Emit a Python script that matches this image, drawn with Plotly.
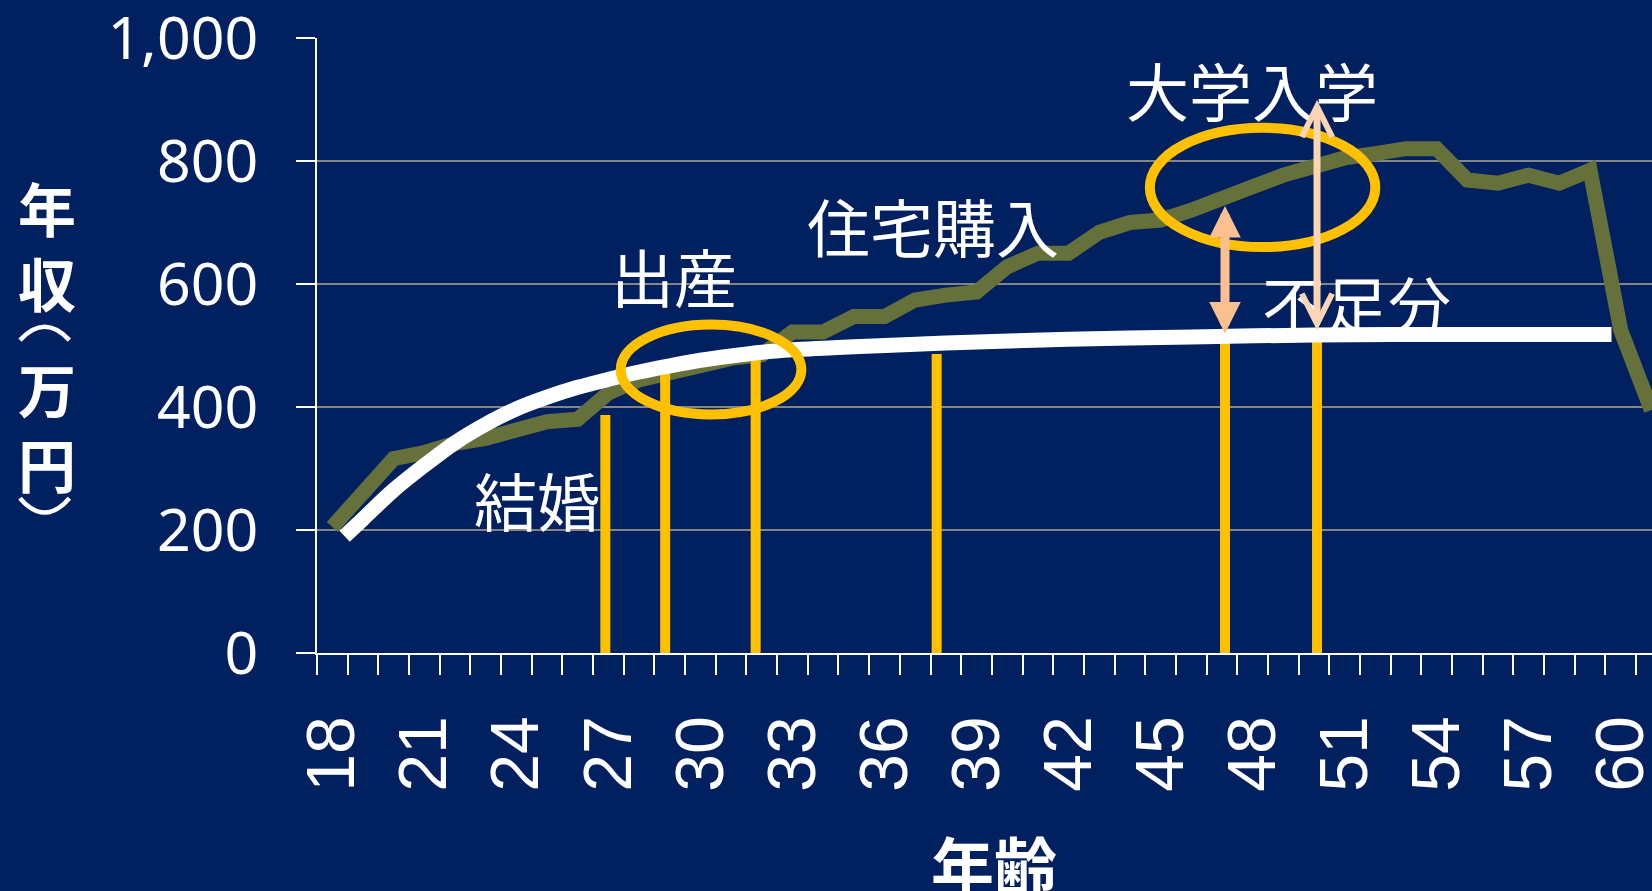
import plotly.graph_objects as go

# ---- data ----
ages = list(range(18, 62))
income = [205, 262, 316, 326, 341, 349, 362, 376, 380, 423, 444, 457, 470, 479, 485,
          522, 522, 547, 547, 574, 582, 587, 628, 650, 650, 684, 700, 704, 720, 742,
          758, 777, 791, 805, 812, 820, 820, 769, 764, 777, 764, 785, 525, 395]

spend_ages = [18.4, 19, 20, 21, 22, 23, 24, 25, 26, 27, 28, 29, 30, 31, 32, 33, 35, 38, 42, 46, 50, 55, 59.7]
spend_vals = [190, 218, 265, 305, 342, 372, 397, 416, 432, 445, 457, 467, 476, 483, 489, 493, 498, 504, 510, 514, 517, 518, 518]

event_ages = [26.9, 28.85, 31.8, 37.7, 47.1, 50.1]
event_tops = [387, 461, 486, 486, 510, 510]

x_tick_vals = list(range(18, 61, 3))
x_tick_text = [str(v) for v in x_tick_vals]
y_tick_vals = [0, 200, 400, 600, 800, 1000]
y_tick_text = ["0", "200", "400", "600", "800", "1,000"]

# annotation layout (data coordinates)
labels = [("結婚", 24.66, 252), ("出産", 29.13, 616), ("住宅購入", 37.58, 697),
          ("大学入学", 47.98, 918), ("不足分", 51.40, 571)]
ellipses = [(27.40, 33.29, 387.8, 534.2), (44.65, 52.0, 660, 854)]
arrow1 = (47.1, 517, 727)
arrow2 = (50.1, 522, 899)

NAVY = "#002060"
YELLOW = "#FFC000"
JP = "Noto Sans CJK JP"

fig = go.Figure()

fig.add_trace(go.Scatter(x=ages, y=income, mode="lines",
                         line=dict(color="#66703b", width=15), hoverinfo="skip"))

bx, by = [], []
for a, t in zip(event_ages, event_tops):
    bx += [a, a, None]
    by += [0, t, None]
fig.add_trace(go.Scatter(x=bx, y=by, mode="lines",
                         line=dict(color=YELLOW, width=10), hoverinfo="skip"))

fig.add_trace(go.Scatter(x=spend_ages, y=spend_vals, mode="lines",
                         line=dict(color="white", width=15, shape="spline", smoothing=0.8),
                         hoverinfo="skip"))

for x0, x1, y0, y1 in ellipses:
    fig.add_shape(type="circle", xref="x", yref="y", x0=x0, x1=x1, y0=y0, y1=y1,
                  line=dict(color=YELLOW, width=10))

# vertical-writing parentheses of the y title (paper coordinates)
fig.add_shape(type="path", xref="paper", yref="paper",
              path="M -0.2225,0.5087 Q -0.2040,0.5520 -0.1855,0.5087",
              line=dict(color="white", width=4.5))
fig.add_shape(type="path", xref="paper", yref="paper",
              path="M -0.2225,0.2517 Q -0.2040,0.2050 -0.1855,0.2517",
              line=dict(color="white", width=4.5))

annots = []
for txt, x, y in labels:
    annots.append(dict(text=txt, x=x, y=y, xref="x", yref="y", showarrow=False,
                       font=dict(family=JP, size=63, color="white"),
                       xanchor="center", yanchor="middle"))

# arrows
annots.append(dict(text="", x=arrow1[0], y=arrow1[2], ax=arrow1[0], ay=arrow1[1],
                   xref="x", yref="y", axref="x", ayref="y", showarrow=True,
                   arrowside="end+start", arrowhead=2, startarrowhead=2,
                   arrowsize=0.7, startarrowsize=0.7, arrowwidth=9,
                   arrowcolor="#FAC090", standoff=0, startstandoff=0))
annots.append(dict(text="", x=arrow2[0], y=arrow2[2], ax=arrow2[0], ay=arrow2[1],
                   xref="x", yref="y", axref="x", ayref="y", showarrow=True,
                   arrowside="end+start", arrowhead=5, startarrowhead=5,
                   arrowsize=0.85, startarrowsize=0.85, arrowwidth=7,
                   arrowcolor="#FCD5B5", standoff=0, startstandoff=0))

# y-axis title (stacked characters)
ytitle = [("<b>年<br>収</b>", 665), ("<b>万<br>円</b>", 370)]
for ch, y in ytitle:
    annots.append(dict(text=ch, x=-0.2025, y=y, xref="paper", yref="y", showarrow=False,
                       font=dict(family=JP, size=58, color="white"),
                       xanchor="center", yanchor="middle"))
# x-axis title
annots.append(dict(text="<b>年齢</b>", x=0.507, y=-0.34, xref="paper", yref="paper",
                   showarrow=False, font=dict(family=JP, size=63, color="white"),
                   xanchor="center", yanchor="middle"))

fig.update_layout(
    width=1652, height=891,
    margin=dict(l=317.3, r=0, t=38, b=238.3, pad=0),
    paper_bgcolor=NAVY, plot_bgcolor=NAVY,
    showlegend=False,
    annotations=annots,
    xaxis=dict(range=[17.5, 61.02], tickmode="array", tickvals=x_tick_vals, ticktext=x_tick_text,
               tickangle=-90, ticks="outside", ticklen=20, tickcolor="rgba(0,0,0,0)",
               minor=dict(ticks="outside", ticklen=20, tickwidth=2, tickcolor="white",
                          tick0=17.5, dtick=1, showgrid=False),
               showline=True, linecolor="white", linewidth=2, showgrid=False, zeroline=False,
               tickfont=dict(family="Liberation Sans", size=68, color="white"),
               ticklabelstandoff=14, ticklabeloverflow="allow", automargin=False),
    yaxis=dict(range=[0, 1000], tickmode="array", tickvals=y_tick_vals, ticktext=y_tick_text,
               ticks="outside", ticklen=19, tickwidth=2, tickcolor="white",
               showline=True, linecolor="white", linewidth=2,
               showgrid=True, gridcolor="#858585", gridwidth=2, zeroline=False,
               tickfont=dict(family="Noto Sans", size=59, color="white"),
               ticklabelstandoff=26, ticklabeloverflow="allow", automargin=False),
)

fig.write_html("out.html", config={"displayModeBar": False},
               post_script="document.body.style.margin='0';document.body.style.background='#002060';")
